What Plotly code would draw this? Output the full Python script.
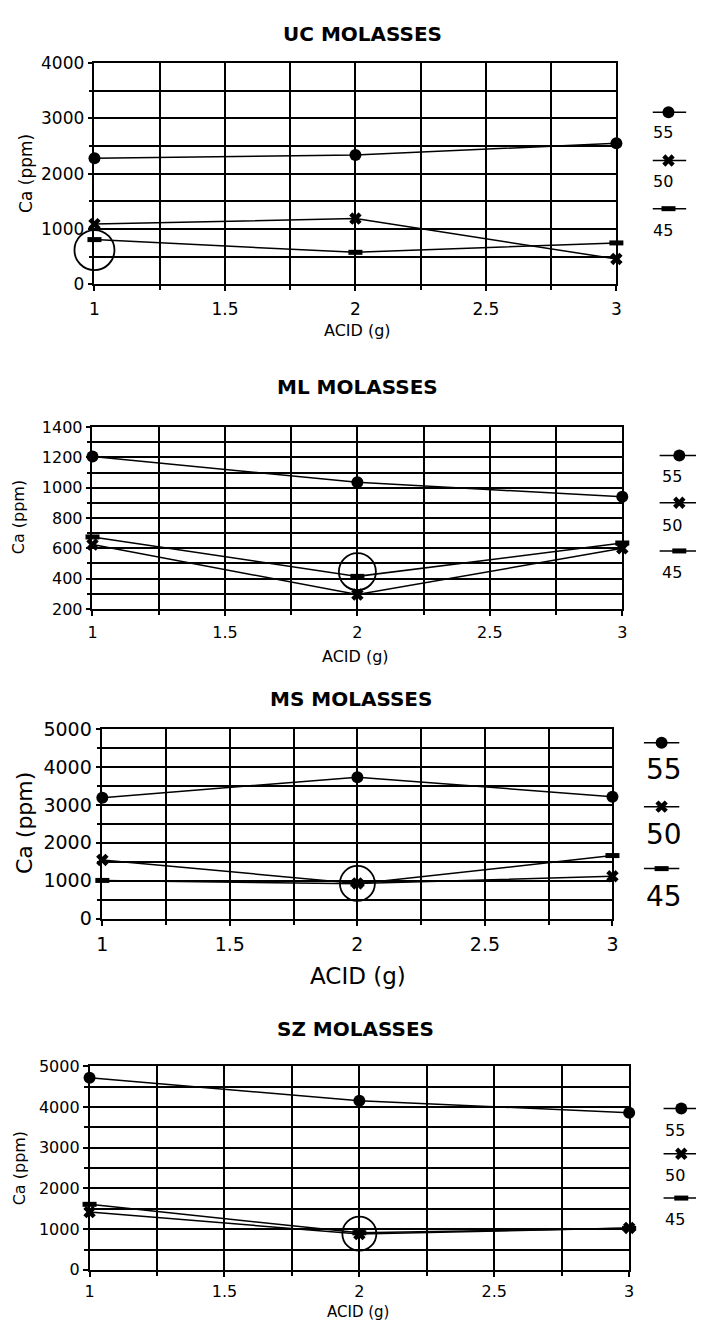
import plotly.graph_objects as go

W, H = 702, 1333
FONT = "DejaVu Sans, Liberation Sans, sans-serif"

# ---------------- data ----------------
acid = [1, 2, 3]
series_names = ["55", "50", "45"]

uc_55 = [2280, 2340, 2550]
uc_50 = [1090, 1190, 460]
uc_45 = [810, 580, 750]

ml_55 = [1205, 1035, 940]
ml_50 = [625, 295, 600]
ml_45 = [675, 415, 635]

ms_55 = [3190, 3730, 3215]
ms_50 = [1550, 930, 1120]
ms_45 = [1010, 920, 1665]

sz_55 = [4720, 4155, 3860]
sz_50 = [1420, 880, 1030]
sz_45 = [1610, 910, 1020]

titles = ["UC MOLASSES", "ML MOLASSES", "MS MOLASSES", "SZ MOLASSES"]
y_title = "Ca (ppm)"
x_title = "ACID (g)"
circle_x = [1, 2, 2, 2]
circle_y = [620, 446, 930, 890]

panel_data = [
    [uc_55, uc_50, uc_45],
    [ml_55, ml_50, ml_45],
    [ms_55, ms_50, ms_45],
    [sz_55, sz_50, sz_45],
]

# ---------------- layout config (pixels) ----------------
panels = [
    dict(box=(90, 621, 53, 278), yr=(0, 4000), dt=1000, mdt=500, tf=17, sx=3,
         title_xy=(363, 23), yt_xy=(21, 165), xt_xy=(358, 325), ytf=17, xtf=16,
         leg_line=(658, 692), leg_mk=674, leg_y=(103, 152, 201), lab_x=656,
         lab_y=(124, 173, 223), labf=16, circ=40),
    dict(box=(88, 627, 423, 608), yr=(200, 1400), dt=200, mdt=100, tf=16, sx=3,
         title_xy=(358, 382), yt_xy=(13, 515), xt_xy=(356, 656), ytf=16, xtf=16,
         leg_line=(665, 702), leg_mk=685, leg_y=(452, 500, 549), lab_x=665,
         lab_y=(473, 523, 571), labf=16, circ=37),
    dict(box=(98, 617, 730, 923), yr=(0, 5000), dt=1000, mdt=500, tf=19, sx=3,
         title_xy=(351, 700), yt_xy=(19, 826), xt_xy=(358, 981), ytf=22, xtf=23,
         leg_line=(649, 685), leg_mk=667, leg_y=(744, 809, 872), lab_x=649,
         lab_y=(771, 837, 900), labf=28, circ=35),
    dict(box=(85, 634, 1073, 1280), yr=(0, 5000), dt=1000, mdt=500, tf=16, sx=1,
         title_xy=(356, 1035), yt_xy=(14, 1177), xt_xy=(358, 1323), ytf=16, xtf=15,
         leg_line=(669, 702), leg_mk=687, leg_y=(1116, 1162, 1207), lab_x=668,
         lab_y=(1138, 1184, 1229), labf=16, circ=34),
]

markers = [
    dict(symbol="circle", size=12, color="black"),
    dict(symbol="x", size=11, color="black", line=dict(width=0)),
    dict(symbol="line-ew-open", size=10, color="black", line=dict(width=5, color="black")),
]

def px(x):
    return x / W

def py(y):
    return 1 - y / H

fig = go.Figure()
annotations = []

for i, (cfg, data) in enumerate(zip(panels, panel_data)):
    n = i + 1
    xa = "x" if n == 1 else f"x{n}"
    ya = "y" if n == 1 else f"y{n}"
    l, r, t, b = cfg["box"]
    for name, vals, mk in zip(series_names, data, markers):
        fig.add_trace(go.Scatter(
            x=acid, y=vals, mode="lines+markers", name=name,
            line=dict(color="black", width=1.5), marker=mk,
            xaxis=xa, yaxis=ya, showlegend=False, cliponaxis=False))
    # highlight circle
    fig.add_trace(go.Scatter(
        x=[circle_x[i]], y=[circle_y[i]], mode="markers",
        marker=dict(symbol="circle-open", size=cfg["circ"], color="black",
                    line=dict(width=1.8, color="black")),
        xaxis=xa, yaxis=ya, showlegend=False, cliponaxis=False))

    axis_common = dict(showline=True, linecolor="black", linewidth=1.5, mirror=True,
                       showgrid=True, gridcolor="black", gridwidth=1.5,
                       ticks="outside", ticklen=5, tickcolor="black", tickwidth=1.5,
                       zeroline=False, tickfont=dict(family=FONT, size=cfg["tf"], color="black"))
    fig.update_layout(**{
        ("xaxis" if n == 1 else f"xaxis{n}"): dict(
            domain=[px(l), px(r)], range=[1, 3], dtick=0.5, tick0=1, anchor=ya,
            ticklabelstandoff=cfg["sx"],
            minor=dict(dtick=0.25, showgrid=True, gridcolor="black", gridwidth=1.5,
                       ticks="outside", ticklen=4, tickcolor="black"),
            **axis_common),
        ("yaxis" if n == 1 else f"yaxis{n}"): dict(
            domain=[py(b), py(t)], range=list(cfg["yr"]), dtick=cfg["dt"],
            tick0=cfg["yr"][0], anchor=xa,
            minor=dict(dtick=cfg["mdt"], showgrid=True, gridcolor="black", gridwidth=1.5,
                       ticks="outside", ticklen=4, tickcolor="black"),
            **axis_common),
    })

    tx, ty = cfg["title_xy"]
    annotations.append(dict(text=f"<b>{titles[i]}</b>", x=px(tx), y=py(ty), xref="paper",
                            yref="paper", showarrow=False, xanchor="center", yanchor="middle",
                            font=dict(family=FONT, size=20, color="black")))
    yx, yy = cfg["yt_xy"]
    annotations.append(dict(text=y_title, x=px(yx), y=py(yy), xref="paper", yref="paper",
                            showarrow=False, textangle=-90, xanchor="center", yanchor="middle",
                            font=dict(family=FONT, size=cfg["ytf"], color="black")))
    xx, xy = cfg["xt_xy"]
    annotations.append(dict(text=x_title, x=px(xx), y=py(xy), xref="paper", yref="paper",
                            showarrow=False, xanchor="center", yanchor="middle",
                            font=dict(family=FONT, size=cfg["xtf"], color="black")))

    # legend (drawn on an overlay pixel axis)
    x0, x1 = cfg["leg_line"]
    for name, mk, ly, lby in zip(series_names, markers, cfg["leg_y"], cfg["lab_y"]):
        fig.add_trace(go.Scatter(x=[x0, x1], y=[ly, ly], mode="lines",
                                 line=dict(color="black", width=1.5),
                                 xaxis="x5", yaxis="y5", showlegend=False, hoverinfo="skip"))
        fig.add_trace(go.Scatter(x=[cfg["leg_mk"]], y=[ly], mode="markers", marker=mk,
                                 xaxis="x5", yaxis="y5", showlegend=False, hoverinfo="skip",
                                 cliponaxis=False))
        annotations.append(dict(text=name, x=px(cfg["lab_x"]), y=py(lby), xref="paper",
                                yref="paper", showarrow=False, xanchor="left", yanchor="middle",
                                font=dict(family=FONT, size=cfg["labf"], color="black")))

fig.update_layout(
    xaxis5=dict(domain=[0, 1], range=[0, W], visible=False, anchor="y5"),
    yaxis5=dict(domain=[0, 1], range=[H, 0], visible=False, anchor="x5"),
)

fig.update_layout(width=W, height=H, margin=dict(l=0, r=0, t=0, b=0),
                  paper_bgcolor="white", plot_bgcolor="rgba(0,0,0,0)",
                  annotations=annotations, showlegend=False,
                  font=dict(family=FONT, color="black"))

fig.write_html("out.html", config={"displayModeBar": False},
               post_script="document.body.style.margin='0';document.body.style.padding='0';")
